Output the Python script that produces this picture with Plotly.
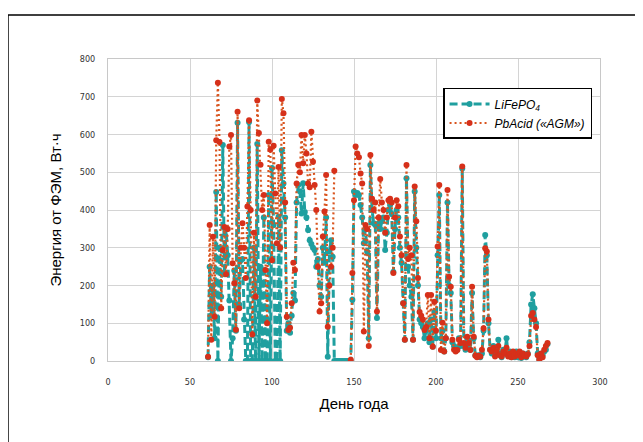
import plotly.graph_objects as go

days = list(range(61, 269))

lifepo4 = [
    10, 250, 120, 200, 60, 448, 0, 300, 170, 572,
    230, 350, 280, 160, 0, 60, 240, 80, 631, 150,
    267, 270, 110, 0, 0, 633, 0, 0, 300, 0,
    575, 0, 250, 0, 380, 0, 0, 440, 0, 511,
    360, 0, 0, 382, 0, 558, 470, 380, 80, 100,
    75, 120, 180, 160, 420, 466, 450, 391, 471, 395,
    380, 347, 320, 310, 300, 294, 250, 270, 200, 170,
    300, 260, 380, 11, 290, 320, 276, 0, 0, 0,
    0, 0, 0, 0, 0, 0, 0, 0, 162, 449,
    440, 445, 440, 413, 380, 312, 350, 290, 60, 519,
    400, 365, 360, 114, 365, 350, 370, 380, 294, 340,
    400, 413, 390, 236, 350, 400, 380, 300, 260, 153,
    56, 484, 250, 200, 170, 56, 449, 300, 200, 110,
    100, 90, 60, 80, 100, 50, 110, 38, 130, 60,
    280, 440, 60, 80, 25, 60, 420, 200, 180, 50,
    40, 30, 30, 60, 40, 510, 40, 30, 60, 40,
    30, 180, 60, 15, 12, 15, 10, 20, 80, 334,
    280, 100, 30, 20, 40, 15, 30, 56, 20, 10,
    30, 20, 60, 15, 25, 10, 20, 10, 25, 10,
    20, 8, 20, 15, 10, 20, 50, 150, 177, 140,
    100, 20, 5, 10, 15, 25, 30, 45,
]

pbacid = [
    11, 360, 56, 329, 117, 585, 737, 580, 140, 294,
    355, 230, 350, 568, 599, 259, 206, 83, 660, 140,
    300, 365, 300, 220, 409, 638, 400, 70, 340, 170,
    690, 604, 520, 400, 440, 241, 100, 581, 560, 267,
    570, 444, 312, 514, 300, 694, 656, 420, 117, 82,
    88, 153, 260, 241, 470, 520, 500, 599, 524, 599,
    550, 470, 460, 607, 528, 466, 400, 250, 131, 153,
    330, 396, 493, 91, 200, 250, 300, 504, None, None,
    None, None, None, None, None, None, None, 3, 233, 426,
    568, 550, 540, 497, 470, 78, 360, 350, 40, 546,
    430, 400, 420, 131, 380, 482, 420, 400, 340, 380,
    426, 430, 420, 233, 380, 426, 410, 330, 280, 153,
    56, 519, 270, 300, 280, 56, 462, 370, 220, 130,
    120, 110, 82, 90, 175, 60, 175, 38, 157, 80,
    303, 466, 29, 101, 25, 60, 453, 223, 197, 56,
    30, 25, 29, 56, 48, 515, 48, 35, 64, 48,
    29, 197, 64, 14, 10, 14, 12, 30, 87, 299,
    290, 110, 30, 25, 35, 12, 25, 40, 15, 12,
    25, 20, 35, 12, 20, 10, 25, 12, 20, 15,
    25, 10, 20, 15, 12, 18, 40, 120, 127, 110,
    90, 15, 3, 20, 10, 30, 40, 48,
]

x_ticks = [0, 50, 100, 150, 200, 250, 300]
y_ticks = [0, 100, 200, 300, 400, 500, 600, 700, 800]

TEAL = "#1f9f9f"
RED = "#d6301a"
RED_LINE = "#d9541e"

fig = go.Figure()
fig.add_trace(go.Scatter(
    x=days, y=lifepo4, name="LiFePO<sub>4</sub>", mode="lines+markers",
    line=dict(color=TEAL, width=3, dash="8px,4px"),
    marker=dict(color=TEAL, size=6),
))
fig.add_trace(go.Scatter(
    x=days, y=pbacid, name="PbAcid («AGM»)", mode="lines+markers",
    line=dict(color=RED_LINE, width=2.2, dash="2px,3px"),
    marker=dict(color=RED, size=6),
    connectgaps=False,
))

tick_font = dict(family="Liberation Sans Narrow, DejaVu Sans Condensed, sans-serif", size=9, color="#333333")
title_font = dict(family="Liberation Sans, Arial, sans-serif", size=15, color="#000000")

fig.update_layout(
    width=643, height=442,
    margin=dict(l=100, r=51, t=51, b=89),
    paper_bgcolor="white", plot_bgcolor="white",
    showlegend=True,
    legend=dict(
        x=0.681, y=0.904, xanchor="left", yanchor="top",
        bgcolor="white", bordercolor="#000000", borderwidth=1.5,
        font=dict(family="Liberation Sans, Arial, sans-serif", size=12, color="#000000", style="italic"),
        itemwidth=40,
    ),
    xaxis=dict(
        range=[0, 300], tickvals=x_ticks, ticktext=[str(v) for v in x_ticks],
        showgrid=True, gridcolor="#d4d4d4", gridwidth=1,
        showline=True, linecolor="#c8c8c8", linewidth=1, mirror=True,
        zeroline=False, ticks="", tickfont=tick_font, ticklabelstandoff=12,
        title=dict(text="День года", font=title_font, standoff=12),
    ),
    yaxis=dict(
        range=[0, 800], tickvals=y_ticks, ticktext=[str(v) for v in y_ticks],
        showgrid=True, gridcolor="#d4d4d4", gridwidth=1,
        showline=True, linecolor="#c8c8c8", linewidth=1, mirror=True,
        zeroline=False, ticks="", tickfont=tick_font, ticklabelstandoff=10,
        title=dict(text="Энергия от ФЭМ, Вт·ч", font=title_font, standoff=14),
    ),
    shapes=[dict(
        type="rect", xref="paper", yref="paper",
        x0=-0.2033, x1=1.0752, y0=-0.30, y1=1.1457,
        line=dict(color="#000000", width=1.5), fillcolor="rgba(0,0,0,0)",
        layer="below",
    )],
)

fig.write_html("out.html")
